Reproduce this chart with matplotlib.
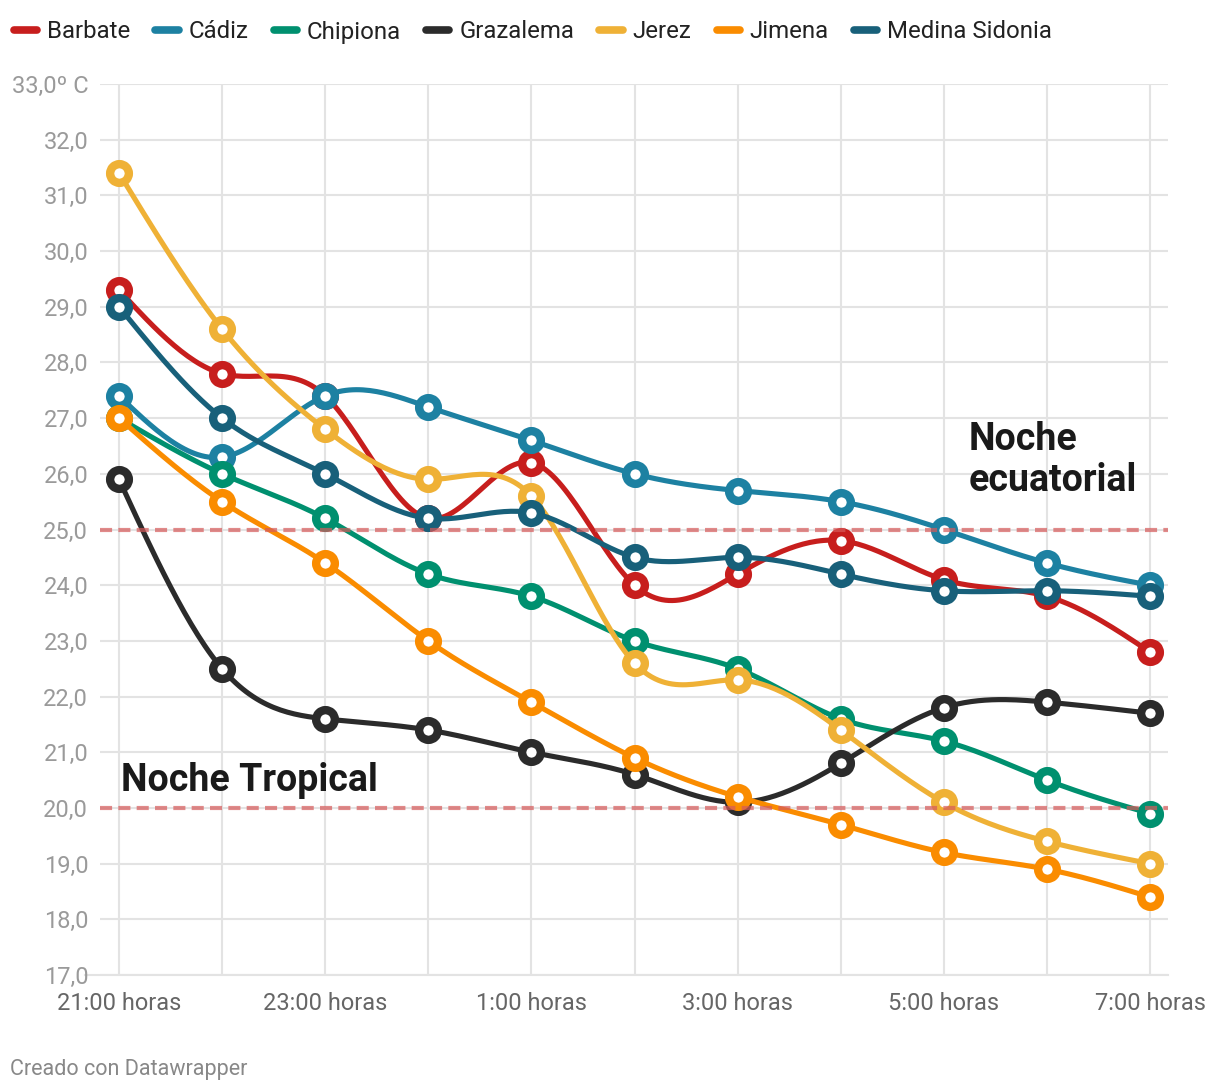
import numpy as np
import matplotlib.pyplot as plt
from matplotlib.lines import Line2D

plt.rcParams['font.family'] = ['Roboto', 'DejaVu Sans']

horas = ["21:00 horas", "22:00 horas", "23:00 horas", "0:00 horas", "1:00 horas",
         "2:00 horas", "3:00 horas", "4:00 horas", "5:00 horas", "6:00 horas", "7:00 horas"]

barbate   = [29.3, 27.8, 27.4, 25.2, 26.2, 24.0, 24.2, 24.8, 24.1, 23.8, 22.8]
cadiz     = [27.4, 26.3, 27.4, 27.2, 26.6, 26.0, 25.7, 25.5, 25.0, 24.4, 24.0]
chipiona  = [27.0, 26.0, 25.2, 24.2, 23.8, 23.0, 22.5, 21.6, 21.2, 20.5, 19.9]
grazalema = [25.9, 22.5, 21.6, 21.4, 21.0, 20.6, 20.1, 20.8, 21.8, 21.9, 21.7]
jerez     = [31.4, 28.6, 26.8, 25.9, 25.6, 22.6, 22.3, 21.4, 20.1, 19.4, 19.0]
jimena    = [27.0, 25.5, 24.4, 23.0, 21.9, 20.9, 20.2, 19.7, 19.2, 18.9, 18.4]
medina    = [29.0, 27.0, 26.0, 25.2, 25.3, 24.5, 24.5, 24.2, 23.9, 23.9, 23.8]

series = [
    ("Barbate", barbate, "#c71e1d"),
    ("Cádiz", cadiz, "#1d81a2"),
    ("Chipiona", chipiona, "#00906f"),
    ("Grazalema", grazalema, "#2b2b2b"),
    ("Jerez", jerez, "#efb136"),
    ("Jimena", jimena, "#fa8c00"),
    ("Medina Sidonia", medina, "#18607a"),
]

umbrales = [25, 20]


def natural_spline(y, n=30):
    # spline cúbico natural con paso uniforme (como d3.curveNatural)
    y = np.asarray(y, float)
    k = len(y)
    A = np.zeros((k, k))
    b = np.zeros(k)
    A[0, 0] = A[-1, -1] = 1
    for i in range(1, k - 1):
        A[i, i - 1], A[i, i], A[i, i + 1] = 1, 4, 1
        b[i] = 6 * (y[i + 1] - 2 * y[i] + y[i - 1])
    M = np.linalg.solve(A, b)
    xs, ys = [], []
    for i in range(k - 1):
        t = np.linspace(0, 1, n, endpoint=False)
        a = y[i]
        c = (y[i + 1] - y[i]) - (2 * M[i] + M[i + 1]) / 6
        yy = a + c * t + M[i] / 2 * t**2 + (M[i + 1] - M[i]) / 6 * t**3
        xs.append(i + t)
        ys.append(yy)
    xs.append([k - 1])
    ys.append([y[-1]])
    return np.concatenate(xs), np.concatenate(ys)


fig = plt.figure(figsize=(12.2, 10.92), dpi=100)
ax = fig.add_axes([100 / 1220, 1 - 975 / 1092, 1068 / 1220, 891 / 1092])

x = np.arange(len(horas))
for nombre, vals, color in series:
    xs, ys = natural_spline(vals)
    ax.plot(xs, ys, color=color, lw=3.7, solid_capstyle='round', zorder=3)
    ax.plot(x, vals, 'o', ms=13.5, mfc='white', mec=color, mew=6, zorder=3)

for u in umbrales:
    ax.axhline(u, color='#d65a5a', alpha=0.7, lw=3, ls=(0, (2.9, 1.5)), zorder=4)

ax.set_xlim(-19 / 103.1, 10 + 18 / 103.1)
ax.set_ylim(17, 33)
ax.set_xticks(x)
ax.set_xticklabels([h if i % 2 == 0 else "" for i, h in enumerate(horas)],
                   fontsize=17, color='#666666')
yt = np.arange(17, 34)
ax.set_yticks(yt)
ax.set_yticklabels([f"{v},0" if v < 33 else "33,0º C" for v in yt],
                   fontsize=17, color='#9a9a9a')
ax.tick_params(length=0, pad=8.5)
ax.tick_params(axis='x', pad=12)
ax.grid(True, color='#e3e3e3', lw=1.5, zorder=0)
for s in ax.spines.values():
    s.set_visible(False)
ax.plot([-34 / 103.1, 10 + 18 / 103.1], [17, 17], color='#e3e3e3', lw=1.5,
        clip_on=False, zorder=1)

ax.text(0.02, 20.5, "Noche Tropical", fontsize=27, fontweight='bold',
        color='#1a1a1a', va='center', ha='left', zorder=5)
ax.text(8.24, 26.95, "Noche\necuatorial", fontsize=27, fontweight='bold',
        color='#1a1a1a', va='top', ha='left', linespacing=1.15, zorder=5)

handles = [Line2D([0], [0], color=c, lw=5.5, solid_capstyle='round') for _, _, c in series]
fig.legend(handles, [n for n, _, _ in series], loc='center left',
           bbox_to_anchor=(13.8 / 1220, 1 - 32 / 1092), ncol=7, frameon=False,
           fontsize=17.3, handlelength=0.96, handletextpad=0.42, columnspacing=1.05,
           labelcolor='#222222', borderaxespad=0, borderpad=0)

fig.text(10 / 1220, 1 - 1069 / 1092, "Creado con Datawrapper", fontsize=15.5,
         color='#888888', va='center', ha='left')

fig.savefig("out.png", dpi=100)
